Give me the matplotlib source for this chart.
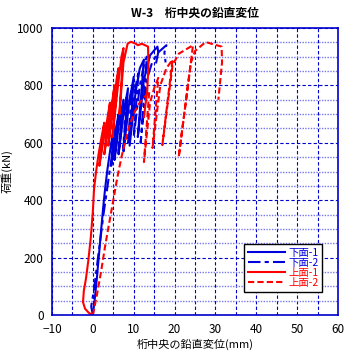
#!/usr/bin/env python3
import matplotlib
matplotlib.use("Agg")
import matplotlib.pyplot as plt
import numpy as np

plt.rcParams['font.family'] = ['Noto Sans CJK JP', 'DejaVu Sans']

TITLE = "W-3　桁中央の鉛直変位"
XLABEL = "桁中央の鉛直変位(mm)"
YLABEL = "荷重(kN)"

labels = ["下面-1", "下面-2", "上面-1", "上面-2"]

# 下面-1 (blue solid)
lower1_x = [0, 0.5, 1, 1.5, 2, 2.5, 3, 3.5, 4, 4.5, 5.2, 4.5, 5.5, 6.3, 5.3, 6.5, 7.5,
            6.3, 7.5, 8.6, 7.5, 8.8, 10, 9, 10.5, 11.5, 12.5, 11, 12.5, 14, 15.8, 16, 15.5]
lower1_y = [0, 60, 130, 210, 290, 370, 440, 500, 550, 600, 650, 520, 640, 700, 540, 680, 750,
            560, 700, 790, 570, 730, 830, 590, 780, 860, 890, 620, 820, 905, 935, 915, 880]

# 下面-2 (blue dash-dot)
lower2_x = [0, -0.4, 0.3, 1, 1.8, 2.6, 3.4, 4.2, 5, 5.8, 5.2, 6.5, 7.2, 6.2, 7.5, 8.4,
            7.4, 8.6, 9.6, 8.6, 10, 11.2, 10, 11.5, 12.5, 13.2, 11.7, 13.2, 14.5, 16, 18,
            17.5, 17.8]
lower2_y = [0, 30, 90, 170, 260, 350, 430, 510, 580, 640, 540, 660, 720, 560, 700, 770,
            580, 720, 800, 600, 760, 850, 620, 800, 870, 900, 600, 820, 880, 915, 940,
            915, 880]

# 上面-1 (red solid)
upper1_x = [0, -1, -1.9, -2.4, -2.2, -1.7, -1.1, -0.5, 0, 0.3, 0.8, 1.4, 2, 2.8, 1.6, 2.5,
            3.5, 4.2, 2.8, 3.8, 4.8, 5.3, 3.8, 5, 5.8, 6.3, 4.8, 6, 7, 7.5, 6.5, 7.5, 8.5,
            9.3, 10.5, 11, 12, 13.5, 13.6, 13.3, 12.5]
upper1_y = [0, 8, 22, 45, 85, 125, 190, 270, 360, 440, 500, 560, 610, 670, 520, 600,
            680, 740, 560, 650, 750, 800, 590, 720, 820, 860, 620, 780, 900, 930, 700, 880, 945,
            952, 945, 940, 945, 935, 870, 780, 690]

# 上面-2 (red dashed)
upper2_x = [0, 1, 2, 3, 4, 5, 6, 7, 8, 9, 10, 11, 12, 13, 13.8, 12.5, 14, 15, 16, 14.6,
            16.5, 18, 19.5, 17, 19.5, 21, 24.5, 21, 24, 25, 27.6, 29, 31.5, 31.6, 30.7]
upper2_y = [0, 70, 150, 240, 320, 400, 480, 550, 610, 660, 700, 730, 750, 765, 780, 533, 740,
            790, 826, 582, 800, 860, 890, 592, 870, 910, 940, 550, 880, 920, 951, 945, 935,
            880, 750]


def main():
    fig = plt.figure(figsize=(3.44, 3.54), dpi=100)
    ax = fig.add_axes([0.151, 0.110, 0.832, 0.811])

    ax.plot(lower1_x, lower1_y, color="#0000dd", lw=1.5, ls="-", label=labels[0])
    ax.plot(lower2_x, lower2_y, color="#0000dd", lw=1.5, ls=(0, (6, 2, 2, 2)), label=labels[1])
    ax.plot(upper1_x, upper1_y, color="#ff0000", lw=1.5, ls="-", label=labels[2])
    ax.plot(upper2_x, upper2_y, color="#ff0000", lw=1.5, ls=(0, (3, 1.5)), label=labels[3])

    ax.set_xlim(-10, 60)
    ax.set_ylim(0, 1000)
    ax.set_xticks(np.arange(-10, 61, 10))
    ax.set_yticks(np.arange(0, 1001, 200))
    ax.set_xticks(np.arange(-10, 61, 5), minor=True)
    ax.set_yticks(np.arange(0, 1001, 50), minor=True)
    ax.grid(which="major", color="#0000cc", ls=(0, (3, 2)), lw=0.8)
    ax.grid(which="minor", axis="y", color="#7777ee", ls=(0, (1, 1)), lw=1.0)
    ax.grid(which="minor", axis="x", color="#0000cc", ls=(0, (3, 2)), lw=0.8)
    ax.set_axisbelow(True)
    ax.tick_params(which="both", length=0, labelsize=8.5)
    ax.tick_params(axis="x", pad=6)
    ax.tick_params(axis="y", pad=6)
    for s in ax.spines.values():
        s.set_color("#0000cc")
        s.set_linewidth(1.2)

    ax.set_title(TITLE, fontsize=8.5, fontweight="bold", pad=8)
    ax.set_xlabel(XLABEL, fontsize=8, labelpad=2)
    ax.set_ylabel(YLABEL, fontsize=8, labelpad=3)

    leg = ax.legend(loc="lower right", bbox_to_anchor=(0.945, 0.08), borderaxespad=0,
                    fontsize=7.5, frameon=True, fancybox=False, edgecolor="black",
                    framealpha=1, handlelength=3.5, handletextpad=0.3,
                    labelspacing=0.0, borderpad=0.4)
    leg.get_frame().set_linewidth(1.0)
    for txt, col in zip(leg.get_texts(), ["#0000dd", "#0000dd", "#ff0000", "#ff0000"]):
        txt.set_color(col)

    fig.savefig("out.png", dpi=100)


if __name__ == "__main__":
    main()
